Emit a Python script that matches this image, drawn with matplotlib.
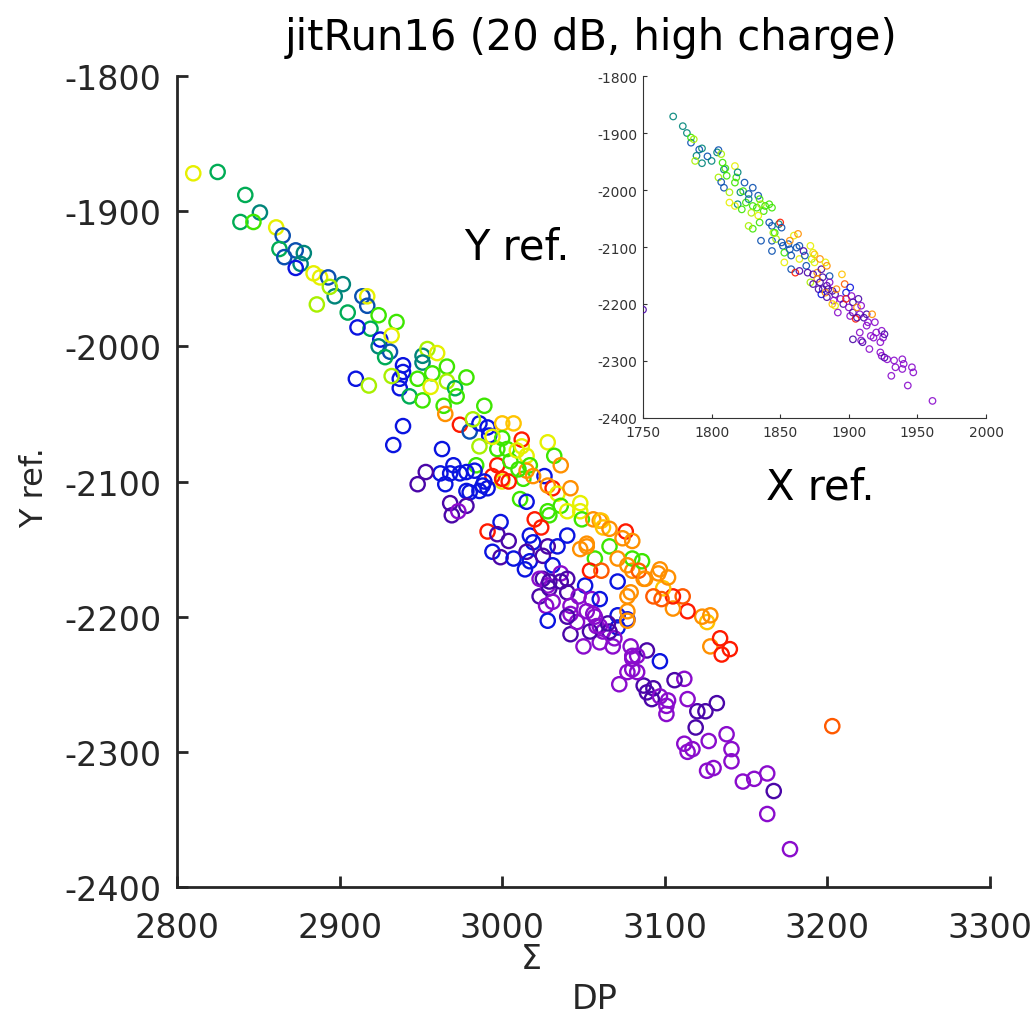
import matplotlib
matplotlib.use("Agg")
import matplotlib.pyplot as plt

plt.rcParams['font.family'] = ['DejaVu Sans']
plt.rcParams['axes.unicode_minus'] = False

# ---------------- colour classes ----------------
class_colors = {
    'R': '#ff1a00', 'OR': '#ff5a00', 'O': '#ff9000', 'YO': '#ffc400',
    'Y': '#e6f000', 'YG': '#a8f000', 'G': '#3de600', 'GT': '#00ac55',
    'T': '#00857a', 'TB': '#0a50b0', 'B': '#0a14e0', 'I': '#4a06a8',
    'V': '#8a0ccc',
}

# ---------------- main plot data (Sigma_DP vs Y ref.) ----------------
band_x = [2810, 2825, 2842, 2851, 2839, 2847, 2861, 2865, 2863, 2873,
          2878, 2866, 2876, 2873, 2884, 2888, 2893, 2902, 2897, 2894,
          2886, 2905, 2914, 2917, 2917, 2924, 2919, 2911, 2935, 2925,
          2932, 2924, 2931, 2928, 2939, 2937, 2939, 2937, 2943, 2951,
          2951, 2954, 2960, 2951, 2932, 2948, 2957, 2966, 2956, 2966,
          2971, 2972, 2964, 2978, 2910, 2918, 2965, 2974, 2939, 2933,
          2963, 2989, 2980, 2986, 2991, 2992, 2982, 3000, 3007, 3000,
          3003, 3012, 3012, 2986, 2997, 3005, 3015, 3017, 3013, 2994,
          3000, 2984, 2983, 2970, 2968, 2974, 2978, 2962, 2965, 2953,
          2948, 2978, 2986, 2989, 3015, 2988, 2991, 2980, 2968, 2978,
          2969, 2973, 2999, 2991, 2997, 3004, 2994, 2999, 3007, 3017,
          3019, 3015, 3017, 3028, 3025, 3034, 3040, 3031, 3025, 3036,
          3040, 3023, 3028, 3027, 3040, 3051, 3047, 3055, 3060, 3028,
          3042, 3052, 3058, 3042, 3050, 3062, 3071, 3068, 3079, 3077,
          3071, 3080, 3080, 3077, 3071, 3077, 3077, 3077]
band_y = [-1872, -1871, -1888, -1901, -1908, -1908, -1912, -1918, -1928, -1929,
          -1931, -1934, -1939, -1942, -1946, -1949, -1949, -1954, -1963, -1956,
          -1969, -1975, -1963, -1963, -1970, -1977, -1987, -1986, -1982, -1995,
          -1992, -2000, -2004, -2008, -2014, -2024, -2019, -2031, -2037, -2040,
          -2007, -2002, -2005, -2012, -2022, -2024, -2020, -2015, -2030, -2026,
          -2031, -2037, -2044, -2023, -2024, -2029, -2050, -2058, -2059, -2073,
          -2076, -2044, -2063, -2057, -2060, -2066, -2054, -2057, -2057, -2068,
          -2076, -2074, -2069, -2074, -2088, -2085, -2081, -2088, -2098, -2096,
          -2100, -2088, -2092, -2088, -2094, -2094, -2093, -2094, -2102, -2093,
          -2102, -2107, -2107, -2100, -2092, -2103, -2105, -2108, -2116, -2118,
          -2125, -2122, -2130, -2137, -2139, -2144, -2152, -2156, -2157, -2140,
          -2145, -2152, -2159, -2148, -2155, -2148, -2140, -2162, -2172, -2168,
          -2172, -2185, -2177, -2192, -2182, -2177, -2185, -2187, -2187, -2203,
          -2198, -2196, -2207, -2213, -2222, -2211, -2208, -2222, -2222, -2202,
          -2199, -2229, -2239, -2241, -2174, -2185, -2196, -2203]
band_c = ['Y', 'GT', 'GT', 'T', 'GT', 'G', 'Y', 'TB', 'GT', 'TB',
          'T', 'TB', 'T', 'B', 'Y', 'Y', 'TB', 'T', 'T', 'YG',
          'YG', 'GT', 'TB', 'Y', 'TB', 'G', 'GT', 'B', 'G', 'B',
          'Y', 'T', 'TB', 'GT', 'B', 'B', 'B', 'B', 'GT', 'G',
          'T', 'YG', 'Y', 'T', 'YG', 'G', 'G', 'G', 'Y', 'YG',
          'GT', 'G', 'G', 'G', 'B', 'YG', 'O', 'R', 'B', 'B',
          'B', 'G', 'TB', 'B', 'B', 'B', 'YG', 'YO', 'YO', 'G',
          'G', 'Y', 'R', 'YG', 'R', 'G', 'Y', 'G', 'G', 'R',
          'Y', 'G', 'B', 'B', 'B', 'B', 'B', 'B', 'B', 'I',
          'I', 'B', 'B', 'B', 'O', 'B', 'B', 'B', 'I', 'I',
          'I', 'V', 'B', 'R', 'I', 'I', 'B', 'I', 'B', 'B',
          'B', 'I', 'B', 'I', 'I', 'B', 'B', 'B', 'I', 'V',
          'I', 'I', 'V', 'V', 'I', 'B', 'V', 'V', 'B', 'B',
          'V', 'V', 'V', 'I', 'V', 'V', 'B', 'V', 'V', 'B',
          'B', 'V', 'V', 'V', 'B', 'O', 'O', 'O']

tail_x = [3177, 3163, 3167, 3163, 3155, 3148, 3141, 3141, 3138, 3127,
          3126, 3130, 3112, 3114, 3117, 3119, 3120, 3125, 3132, 3114,
          3112, 3106, 3101, 3101, 3102, 3093, 3089, 3092, 3087, 3097,
          3097, 3089, 3080, 3083, 3072, 3069, 3066, 3060, 3046, 3054,
          3060, 3056, 3065, 3042, 3036, 3029, 3014, 3023, 3029, 3031,
          3040, 3057, 3083]
tail_y = [-2372, -2346, -2329, -2316, -2320, -2322, -2307, -2298, -2287, -2292,
          -2314, -2312, -2294, -2300, -2298, -2282, -2270, -2270, -2264, -2261,
          -2246, -2247, -2266, -2272, -2262, -2253, -2256, -2261, -2251, -2259,
          -2233, -2225, -2231, -2241, -2250, -2216, -2211, -2219, -2204, -2211,
          -2207, -2198, -2205, -2192, -2174, -2179, -2165, -2172, -2174, -2189,
          -2200, -2200, -2229]
tail_c = ['V', 'V', 'I', 'V', 'V', 'V', 'V', 'V', 'V', 'V',
          'V', 'V', 'V', 'V', 'V', 'I', 'I', 'I', 'I', 'V',
          'V', 'I', 'V', 'V', 'V', 'I', 'I', 'I', 'I', 'V',
          'B', 'I', 'V', 'V', 'V', 'V', 'I', 'V', 'V', 'I',
          'V', 'V', 'I', 'V', 'I', 'I', 'B', 'V', 'I', 'V',
          'I', 'V', 'V']

warm_x = [3203, 3126, 3128, 3134, 3140, 3135, 3123, 3128, 3114, 3105,
          3111, 3105, 3099, 3096, 3102, 3093, 3080, 3087, 3076, 3080,
          3066, 3057, 3080, 3086, 3054, 3061, 3048, 3029, 3060, 3048,
          3052, 3020, 3024, 3071, 3028, 3032, 3026, 3036, 3031, 3028,
          3034, 3036, 3028, 3042, 3048, 3049, 3040, 3056, 3061, 3062,
          3052, 3066, 3074, 3077, 3084, 3088, 3097, 3098, 3079, 3011,
          3015, 2997, 2994, 3000, 3004, 3009, 3010, 3019]
warm_y = [-2281, -2204, -2222, -2216, -2224, -2228, -2200, -2199, -2196, -2194,
          -2185, -2185, -2179, -2168, -2171, -2185, -2166, -2172, -2137, -2144,
          -2148, -2157, -2157, -2159, -2166, -2166, -2122, -2125, -2129, -2150,
          -2148, -2128, -2134, -2157, -2071, -2081, -2096, -2088, -2105, -2103,
          -2109, -2118, -2122, -2105, -2116, -2128, -2122, -2128, -2129, -2134,
          -2146, -2135, -2142, -2162, -2166, -2172, -2165, -2187, -2182, -2113,
          -2115, -2076, -2067, -2098, -2100, -2077, -2091, -2096]
warm_c = ['OR', 'YO', 'O', 'R', 'R', 'R', 'O', 'O', 'R', 'O',
          'OR', 'R', 'YO', 'O', 'O', 'OR', 'O', 'O', 'R', 'O',
          'G', 'G', 'G', 'G', 'R', 'OR', 'Y', 'G', 'O', 'O',
          'O', 'R', 'R', 'O', 'Y', 'G', 'B', 'O', 'R', 'O',
          'Y', 'G', 'G', 'O', 'Y', 'G', 'Y', 'O', 'YO', 'YO',
          'O', 'O', 'O', 'O', 'OR', 'O', 'O', 'OR', 'O', 'G',
          'B', 'G', 'Y', 'R', 'R', 'Y', 'G', 'O']

# ---------------- inset data (X ref. vs Y ref.) ----------------
inset_x = [1772, 1779, 1782, 1785, 1785, 1787, 1791, 1793, 1789, 1793,
           1797, 1800, 1788, 1804, 1805, 1807, 1808, 1809, 1810, 1811,
           1805, 1807, 1809, 1813, 1813, 1817, 1818, 1819, 1817, 1819,
           1822, 1817, 1821, 1823, 1824, 1827, 1830, 1825, 1827, 1830,
           1829, 1833, 1834, 1835, 1836, 1839, 1842, 1844, 1838, 1834,
           1835, 1830, 1827, 1842, 1844, 1845, 1849, 1850, 1851, 1836,
           1844, 1844, 1846, 1847, 1851, 1852, 1853, 1853, 1856, 1857,
           1860, 1857, 1858, 1862, 1863, 1864, 1864, 1858, 1861, 1864,
           1867, 1868, 1869, 1870, 1872, 1873, 1874, 1875, 1877, 1874,
           1879, 1872, 1880, 1883, 1884, 1886, 1881, 1877, 1879, 1874,
           1878, 1881, 1880, 1884, 1883, 1886, 1885, 1888, 1884, 1890,
           1891, 1889, 1890, 1894, 1895, 1897, 1898, 1901, 1892, 1896,
           1898, 1900, 1902, 1903, 1901, 1903, 1906, 1907, 1908, 1905,
           1909, 1903, 1906, 1911, 1913, 1908, 1913, 1917, 1914, 1909,
           1910, 1916, 1918, 1919, 1920, 1924, 1925, 1915, 1923, 1926,
           1923, 1924, 1926, 1928, 1933, 1934, 1931, 1939, 1940, 1939,
           1946, 1947, 1943, 1961, 1750, 1875, 1888]
inset_y = [-1871, -1888, -1900, -1917, -1908, -1911, -1929, -1927, -1940, -1953,
           -1941, -1949, -1949, -1934, -1930, -1937, -1952, -1964, -1962, -1975,
           -1978, -1986, -1996, -2004, -2022, -1958, -1978, -1969, -1987, -2025,
           -2034, -2028, -2004, -2002, -1987, -2007, -1996, -2022, -2016, -2028,
           -2040, -2031, -2010, -2016, -2025, -2028, -2025, -2031, -2037, -2045,
           -2057, -2068, -2063, -2057, -2063, -2075, -2060, -2057, -2066, -2089,
           -2089, -2107, -2075, -2086, -2092, -2098, -2110, -2127, -2095, -2104,
           -2080, -2089, -2115, -2101, -2077, -2098, -2121, -2139, -2145, -2142,
           -2107, -2115, -2133, -2145, -2098, -2121, -2110, -2127, -2145, -2148,
           -2121, -2162, -2139, -2127, -2133, -2151, -2153, -2156, -2162, -2165,
           -2174, -2174, -2183, -2168, -2180, -2162, -2174, -2177, -2188, -2183,
           -2174, -2194, -2203, -2191, -2148, -2165, -2180, -2171, -2215, -2200,
           -2191, -2206, -2186, -2197, -2221, -2215, -2206, -2191, -2218, -2226,
           -2203, -2262, -2224, -2224, -2238, -2250, -2218, -2218, -2232, -2264,
           -2267, -2256, -2259, -2232, -2250, -2247, -2259, -2279, -2267, -2253,
           -2285, -2291, -2294, -2297, -2299, -2311, -2326, -2297, -2305, -2314,
           -2311, -2320, -2343, -2370, -2210, -2113, -2200]
inset_c = ['T', 'T', 'T', 'TB', 'G', 'YG', 'TB', 'T', 'T', 'T',
           'TB', 'T', 'YG', 'T', 'TB', 'YG', 'G', 'T', 'G', 'G',
           'YG', 'TB', 'TB', 'YG', 'Y', 'Y', 'G', 'T', 'G', 'T',
           'G', 'Y', 'T', 'G', 'TB', 'TB', 'TB', 'G', 'T', 'G',
           'YG', 'G', 'TB', 'G', 'YG', 'G', 'G', 'G', 'G', 'Y',
           'G', 'G', 'YG', 'TB', 'TB', 'YG', 'T', 'R', 'TB', 'TB',
           'TB', 'TB', 'G', 'YG', 'TB', 'TB', 'G', 'Y', 'TB', 'TB',
           'Y', 'O', 'TB', 'TB', 'O', 'TB', 'Y', 'TB', 'R', 'I',
           'I', 'TB', 'TB', 'I', 'Y', 'YG', 'Y', 'Y', 'O', 'I',
           'O', 'YG', 'I', 'Y', 'O', 'TB', 'I', 'O', 'I', 'I',
           'I', 'I', 'B', 'I', 'O', 'V', 'I', 'I', 'I', 'I',
           'O', 'V', 'Y', 'V', 'YO', 'OR', 'B', 'B', 'V', 'I',
           'R', 'V', 'V', 'I', 'V', 'I', 'O', 'I', 'V', 'R',
           'V', 'I', 'I', 'I', 'V', 'V', 'I', 'O', 'V', 'V',
           'I', 'V', 'V', 'V', 'V', 'V', 'V', 'V', 'V', 'I',
           'V', 'V', 'I', 'V', 'V', 'V', 'V', 'V', 'V', 'V',
           'V', 'V', 'V', 'V', 'I', 'YO', 'YO']

main_xticks = [2800, 2900, 3000, 3100, 3200, 3300]
main_yticks = [-2400, -2300, -2200, -2100, -2000, -1900, -1800]
inset_xticks = [1750, 1800, 1850, 1900, 1950, 2000]
inset_yticks = [-2400, -2300, -2200, -2100, -2000, -1900, -1800]

title_text = 'jitRun16 (20 dB, high charge)'

# ---------------- figure ----------------
W, H = 1035, 1020
fig = plt.figure(figsize=(W / 100, H / 100), dpi=100)
fig.patch.set_facecolor('white')

axc = '#262626'

ax = fig.add_axes([177 / W, 1 - 888 / H, (990 - 177) / W, (888 - 77) / H])
for xs, ys, cs in [(band_x, band_y, band_c), (tail_x, tail_y, tail_c),
                   (warm_x, warm_y, warm_c)]:
    ax.scatter(xs, ys, s=105, facecolors='none',
               edgecolors=[class_colors[c] for c in cs], linewidths=1.7,
               zorder=3)
ax.set_xlim(2800, 3300)
ax.set_ylim(-2400, -1800)
ax.set_xticks(main_xticks)
ax.set_yticks(main_yticks)
ax.set_xticklabels([str(v) for v in main_xticks])
ax.set_yticklabels([str(v) for v in main_yticks])
for side in ['top', 'right']:
    ax.spines[side].set_visible(False)
for side in ['left', 'bottom']:
    ax.spines[side].set_linewidth(2.0)
    ax.spines[side].set_color(axc)
ax.tick_params(direction='in', length=8, width=2.0, colors=axc,
               labelsize=24, labelcolor=axc)
ax.tick_params(axis='y', pad=11)
ax.tick_params(axis='x', pad=17)

# title and labels
fig.text(591 / W, 1 - 38 / H, title_text, ha='center', va='center',
         fontsize=30, color='black')
fig.text(35 / W, 1 - 488 / H, 'Y ref.', ha='center', va='center',
         rotation=90, fontsize=23, color=axc)
fig.text(531 / W, 1 - 960 / H, '\u03a3', ha='center', va='center',
         fontsize=24, color=axc)
fig.text(595 / W, 1 - 1000 / H, 'DP', ha='center', va='center',
         fontsize=24, color=axc)

# ---------------- inset ----------------
ins = fig.add_axes([643 / W, 1 - 419 / H, (986 - 643) / W, (419 - 77) / H])
ins.set_facecolor('white')
ins.scatter(inset_x, inset_y, s=22, facecolors='none',
            edgecolors=[class_colors[c] for c in inset_c], linewidths=0.9,
            alpha=0.9, zorder=3)
ins.set_xlim(1750, 2000)
ins.set_ylim(-2400, -1800)
ins.set_xticks(inset_xticks)
ins.set_yticks(inset_yticks)
ins.set_xticklabels([str(v) for v in inset_xticks])
ins.set_yticklabels([str(v) for v in inset_yticks])
for side in ['top', 'right']:
    ins.spines[side].set_visible(False)
for side in ['left', 'bottom']:
    ins.spines[side].set_linewidth(0.8)
    ins.spines[side].set_color('#333333')
ins.tick_params(direction='in', length=3, width=0.8, colors='#333333',
                labelsize=10, labelcolor='#333333')
ins.tick_params(axis='y', pad=4)
ins.tick_params(axis='x', pad=5)

fig.text(517 / W, 1 - 248 / H, 'Y ref.', ha='center', va='center',
         fontsize=30, color='black')
fig.text(820 / W, 1 - 487 / H, 'X ref.', ha='center', va='center',
         fontsize=30, color='black')

fig.savefig('out.png', dpi=100, facecolor='white')
